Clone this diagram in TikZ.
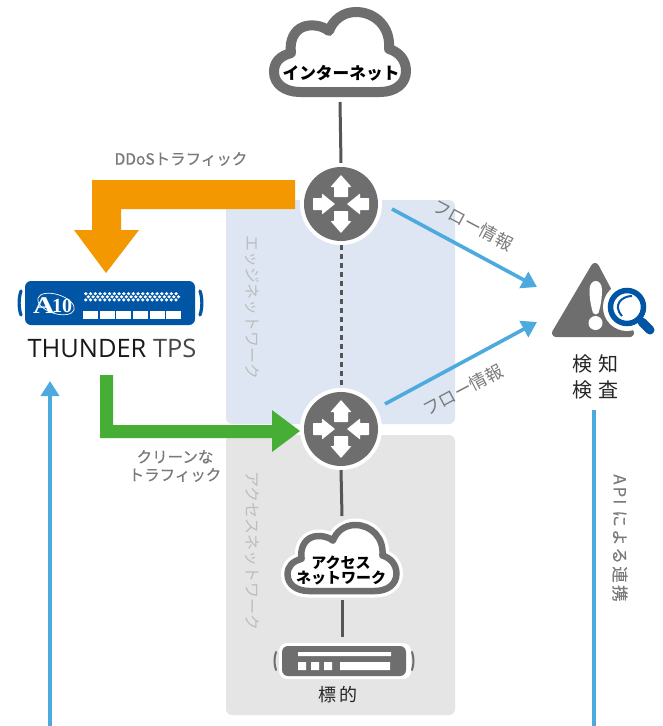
\documentclass[tikz,border=0pt]{standalone}
\usepackage{fontspec}
\setmainfont{Noto Sans CJK JP}
\newfontfamily\medf[FakeBold=0.5]{Noto Sans CJK JP}
\newfontfamily\spacedf[LetterSpace=14,FakeBold=0.25]{Noto Sans CJK JP}
\newfontfamily\latinf{Open Sans}
\newfontfamily\logof{Liberation Serif}
\usetikzlibrary{arrows.meta}
\definecolor{dk}{HTML}{6E6E6E}
\definecolor{lnk}{HTML}{555555}
\definecolor{org}{HTML}{F39800}
\definecolor{grn}{HTML}{47AE35}
\definecolor{blu}{HTML}{4CAADE}
\definecolor{navy}{HTML}{0055A5}
\definecolor{panA}{HTML}{DFE6F3}
\definecolor{panB}{HTML}{E5E5E5}
\definecolor{lbl}{HTML}{7A7A7A}
\definecolor{vlbl}{HTML}{BDBDBD}
\tikzset{
  x=1pt,y=-1pt,
  routernode/.style={circle,minimum size=82pt,inner sep=0pt,outer sep=0pt},
  slot/.style={inner sep=0pt,outer sep=0pt},
  link/.style={draw=lnk,line width=3pt},
  flow/.style={draw=blu,line width=3.6pt,-{Triangle[length=15pt,width=18pt]}},
  flat/.style={draw=blu,line width=3.6pt},
  tag/.style={font=\medf\fontsize{15.5}{18}\selectfont,text=lbl,inner sep=0pt,align=center},
  ftag/.style={font=\fontsize{17.5}{18}\selectfont,text=lbl,inner sep=0pt},
  vtag/.style={font=\fontsize{16}{17}\selectfont,text=vlbl,inner sep=0pt,rotate=-90},
  head/.style={font=\bfseries\fontsize{#1}{#1}\selectfont,text=black,inner sep=0pt,align=center},
  panel/.style={fill=#1,rounded corners=6pt},
}
\newcommand{\cloudpath}{(-40,40) -- (40,40) .. controls (55,40) and (66,32) .. (66,19) .. controls (66,8) and (59,0) .. (49,-3) .. controls (51,-25) and (35,-40) .. (16,-40) .. controls (3,-40) and (-7,-32) .. (-11,-21) .. controls (-18,-27) and (-30,-28) .. (-37,-25) .. controls (-45,-22) and (-51,-12) .. (-49,1) .. controls (-60,4) and (-66,10) .. (-66,20) .. controls (-66,32) and (-55,40) .. (-40,40) -- cycle}
\newcommand{\routerglyph}[1]{%
  \fill[white] (#1) circle (41);
  \fill[dk] (#1) circle (37);
  \begin{scope}[shift={(#1)}]
    \foreach \a in {0,180}{
      \fill[white,rotate=\a,rounded corners=0.6pt] (-7,-7) -- (-7,-17) -- (-10.5,-17) -- (0,-29) -- (10.5,-17) -- (7,-17) -- (7,-7) -- cycle;
    }
    \foreach \a in {90,270}{
      \fill[white,rotate=\a,rounded corners=0.6pt] (-6,-28) -- (-6,-19) -- (-10.5,-19) -- (0,-6) -- (10.5,-19) -- (6,-19) -- (6,-28) -- cycle;
    }
  \end{scope}}
\begin{document}
\begin{tikzpicture}
\useasboundingbox (0,0) rectangle (662,726);
\fill[white] (0,0) rectangle (662,726);
% panels
\fill[panel=panA] (226,200) rectangle (455,424);
\fill[panel=panB] (226,435) rectangle (455,715);
\node[vtag] (edgeL) at (252,307) {エッジネットワーク};
\node[vtag] (accL) at (252,551) {アクセスネットワーク};
% anchor nodes
\node[routernode] (r1) at (341,204) {};
\node[routernode] (r2) at (341,429) {};
\node[slot,minimum width=142pt,minimum height=92pt] (inet) at (340,56) {};
\node[slot,minimum width=122pt,minimum height=84pt] (acc) at (342,558) {};
\node[slot,minimum width=130pt,minimum height=36pt] (tgt) at (345,655) {};
% connectors
\draw[link] (inet.south) -- (r1.north);
\draw[link,dash pattern=on 5pt off 4pt] (r1.south) -- (r2.north);
\draw[link] (r2.south) -- (acc.north);
\draw[link] (acc.south) -- (tgt.north -| acc.south);
% routers
\routerglyph{r1}
\routerglyph{r2}
% internet cloud
\begin{scope}[shift={(340,52)}]
  \filldraw[fill=white,draw=dk,line width=10pt,line join=round] \cloudpath;
\end{scope}
\node[head=16.7] (inetT) at (341,73) {インターネット};
% access cloud
\begin{scope}[shift={(342,558)},scale=0.825]
  \draw[white,line width=13pt,line join=round] \cloudpath;
  \filldraw[fill=white,draw=dk,line width=6.5pt,line join=round] \cloudpath;
\end{scope}
\node[head=15] (accT) at (341,570) {\fontsize{15}{19}\selectfont アクセス\\ネットワーク};
% target device
\fill[white,rounded corners=8pt] (279,643) rectangle (411,679);
\fill[dk,rounded corners=6pt] (282,646) rectangle (406,676);
\fill[white] (298,652) rectangle (391,656) (298,662) rectangle (306,670) (311,662) rectangle (319,670) (324,662) rectangle (332,670) (340,662) rectangle (390,670);
\draw[dk,line width=2pt,line cap=round] (276,652) .. controls (274,658) and (274,664) .. (276,670) (412,652) .. controls (414,658) and (414,664) .. (412,670);
\node[font=\fontsize{18}{18}\selectfont,text=black!85,inner sep=0pt] (tgtT) at (338,695) {標\hspace{3pt}的};
% orange
\fill[org] (295,180) -- (92,180) -- (92,230) -- (74,230) -- (106,273) -- (139,230) -- (121,230) -- (121,209) -- (295,209) -- cycle;
\node[tag] (ddos) at (181,159) {DDoSトラフィック};
% Thunder
\draw[navy,line width=3.2pt,line cap=round] (21,291) .. controls (18.5,298) and (18.5,308) .. (21,315) (200,291) .. controls (202.5,298) and (202.5,308) .. (200,315);
\fill[navy,rounded corners=6pt] (25,281) rectangle (195,325);
\foreach \x in {0,...,19}{
  \foreach \y/\o in {0/0,1/2.5,2/0}{
    \fill[white] ({84+\o+4.75*\x},{293.7+3.1*\y}) -- ++(1.8,-1.7) -- ++(1.8,1.7) -- ++(-1.8,1.7) -- cycle;
  }
}
\foreach \x/\w in {83/15,100/15,116/15,133/15,150/15,166/15}{
  \fill[white] (\x,311) rectangle ++(\w,8);
}
\begin{scope}[rotate around={-18:(56,304)}]
 \draw[white,line width=0.7pt] (56,304) ellipse (19 and 9.5);
\end{scope}
\node[font=\logof\bfseries\fontsize{24}{24}\selectfont,text=white,inner sep=0pt,xscale=1.25] (a10A) at (44,306) {A};
\node[font=\logof\bfseries\fontsize{20}{20}\selectfont,text=white,inner sep=0pt] (a10N) at (62,306) {10};
\node[font=\latinf\fontsize{25.4}{26}\selectfont,text=black!90,inner sep=0pt] (thunder) at (112,348) {THUNDER \textcolor{black!72}{TPS}};
% green
\fill[grn] (100,375) -- (113,375) -- (113,425) -- (272,425) -- (272,410) -- (300,431) -- (272,452) -- (272,438) -- (100,438) -- cycle;
\node[tag] (clean) at (175,466) {クリーンな\\トラフィック};
% flow
\coordinate (f1s) at (392,209);
\coordinate (f1e) at (537,287);
\coordinate (f2s) at (385,404);
\coordinate (f2e) at (537,322);
\draw[flow] (f1s) -- (f1e);
\draw[flow] (f2s) -- (f2e);
\node[ftag,rotate=-28] (fl1) at (473,225) {フロー情報};
\node[ftag,rotate=28] (fl2) at (463,390) {フロー情報};
% long blue
\coordinate (b1) at (50,726);
\coordinate (b2) at (50,381);
\coordinate (b3) at (594,410);
\coordinate (b4) at (594,726);
\draw[flow] (b1) -- (b2);
\draw[flat] (b3) -- (b4);
\node[font=\spacedf\fontsize{16.5}{18}\selectfont,text=lbl,inner sep=0pt,rotate=-90] (api) at (620,538) {API による連携};
% alarm icon
\filldraw[fill=dk,draw=dk,line width=8pt,line join=round] (595,267) -- (556,333) -- (630,333) -- cycle;
\fill[white] (589.5,290) .. controls (589.5,278) and (602,278) .. (602,290) .. controls (602,300) and (600,308) .. (598.5,313) .. controls (597,315) and (594.5,315) .. (593,313) .. controls (591.5,308) and (589.5,300) .. (589.5,290) -- cycle;
\fill[white] (595.5,323) circle (7);
\fill[white] (627,307) circle (24);
\draw[white,line width=14pt,line cap=round] (642,322) -- (650,330);
\draw[navy,line width=5.5pt] (627,307) circle (16.5);
\draw[navy,line width=9pt,line cap=round] (642,322) -- (650,330);
\draw[navy,line width=2pt] (622,316) .. controls (612,305) and (622,296) .. (632,296);
\node[font=\fontsize{20}{26}\selectfont,text=black!85,inner sep=0pt,align=center] (detect) at (595,377) {検\hspace{6pt}知\\検\hspace{6pt}査};
\end{tikzpicture}
\end{document}
